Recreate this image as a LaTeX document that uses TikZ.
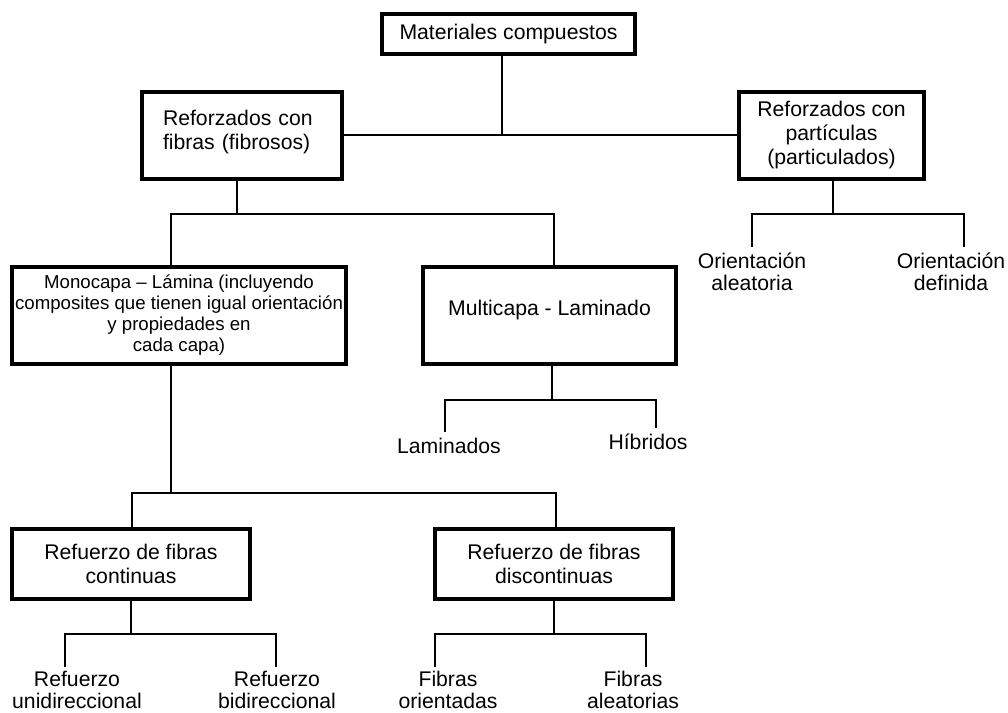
\documentclass[tikz,border=0pt]{standalone}
\usepackage{fontspec}
\setmainfont{Liberation Sans}

\newcommand{\txtgrande}{\fontsize{15.9}{18}\selectfont}
\newcommand{\txthoja}{\fontsize{15.9}{16.5}\selectfont}
\newcommand{\txtchico}{\fontsize{14}{15.75}\selectfont}

\begin{document}
\begin{tikzpicture}[x=0.75pt,y=-0.75pt,
    caja/.style={draw, line width=2.8pt, align=center, inner sep=0pt, font=\txtgrande},
    hoja/.style={anchor=north, align=center, inner sep=4.5pt, font=\txthoja},
    linea/.style={line width=1.5pt}]

    \useasboundingbox (0,0) rectangle (1008,713);

    \node[caja, minimum width=189.75pt, minimum height=30pt] (mat) at (508.5,34) {Materiales compuestos};
    \node[caja, minimum width=150pt, minimum height=65.25pt, align=left, text width=118.5pt] (fib) at (242,135.5) {Reforzados con\\fibras (fibrosos)\rule[-9pt]{0pt}{0pt}};
    \node[caja, minimum width=138.75pt, minimum height=65.25pt] (par) at (831.5,135.5) {Reforzados con\\partículas\\(particulados)};

    \node[caja, minimum width=250.5pt, minimum height=72.75pt, font=\txtchico] (mono) at (179,315.5) {Monocapa – Lámina (incluyendo\\composites que tienen igual orientación\\y propiedades en\\cada capa)};
    \node[caja, minimum width=189.75pt, minimum height=72.75pt] (multi) at (549.5,315.5) {Multicapa - Laminado\rule[-12pt]{0pt}{0pt}};

    \node[caja, minimum width=178.5pt, minimum height=52.5pt] (cont) at (131,564) {Refuerzo de fibras\\continuas};
    \node[caja, minimum width=178.5pt, minimum height=52.5pt] (disc) at (554,564) {Refuerzo de fibras\\discontinuas};

    % hojas
    \node[hoja] (ale) at (752,247) {Orientación\\aleatoria};
    \node[hoja] (def) at (951,247) {Orientación\\definida};
    \node[hoja] (lam) at (449,432) {Laminados};
    \node[hoja] (hib) at (648,428) {Híbridos};
    \node[hoja, inner sep=3pt] (uni) at (77,667) {Refuerzo\\unidireccional};
    \node[hoja, inner sep=3pt] (bid) at (277,667) {Refuerzo\\bidireccional};
    \node[hoja, inner sep=3pt] (ori) at (448,667) {Fibras\\orientadas};
    \node[hoja, inner sep=3pt] (alea) at (633,667) {Fibras\\aleatorias};

    % materiales
    \coordinate (n1) at (502,135);
    \draw[linea] (mat.south -| n1) -- (n1);
    \draw[linea] (fib.east) -- (par.west);

    % fibrosos
    \coordinate (n2) at (237,214);
    \coordinate (n2a) at (171,214);
    \coordinate (n2b) at (554,214);
    \draw[linea] (fib.south -| n2) -- (n2);
    \draw[linea] (mono.north -| n2a) |- (n2b) -- (multi.north -| n2b);

    % particulados
    \coordinate (n3) at (833,214);
    \coordinate (n3b) at (964,214);
    \draw[linea] (par.south -| n3) -- (n3);
    \draw[linea] (ale.north) |- (n3b) -- (def.north -| n3b);

    % multicapa
    \coordinate (n4) at (552,400);
    \coordinate (n4a) at (445,400);
    \coordinate (n4b) at (656,400);
    \draw[linea] (multi.south -| n4) -- (n4);
    \draw[linea] (lam.north -| n4a) |- (n4b) -- (hib.north -| n4b);

    % monocapa
    \coordinate (n5) at (171,493);
    \coordinate (n5a) at (132,493);
    \coordinate (n5b) at (556,493);
    \draw[linea] (mono.south -| n5) -- (n5);
    \draw[linea] (cont.north -| n5a) |- (n5b) -- (disc.north -| n5b);

    % continuas / discontinuas
    \coordinate (n6) at (131,634);
    \coordinate (n6a) at (65,634);
    \coordinate (n6b) at (276,634);
    \draw[linea] (cont.south) -- (n6);
    \draw[linea] (uni.north -| n6a) |- (n6b) -- (bid.north -| n6b);

    \coordinate (n7) at (554,634);
    \coordinate (n7a) at (435,634);
    \coordinate (n7b) at (646,634);
    \draw[linea] (disc.south) -- (n7);
    \draw[linea] (ori.north -| n7a) |- (n7b) -- (alea.north -| n7b);

\end{tikzpicture}
\end{document}
